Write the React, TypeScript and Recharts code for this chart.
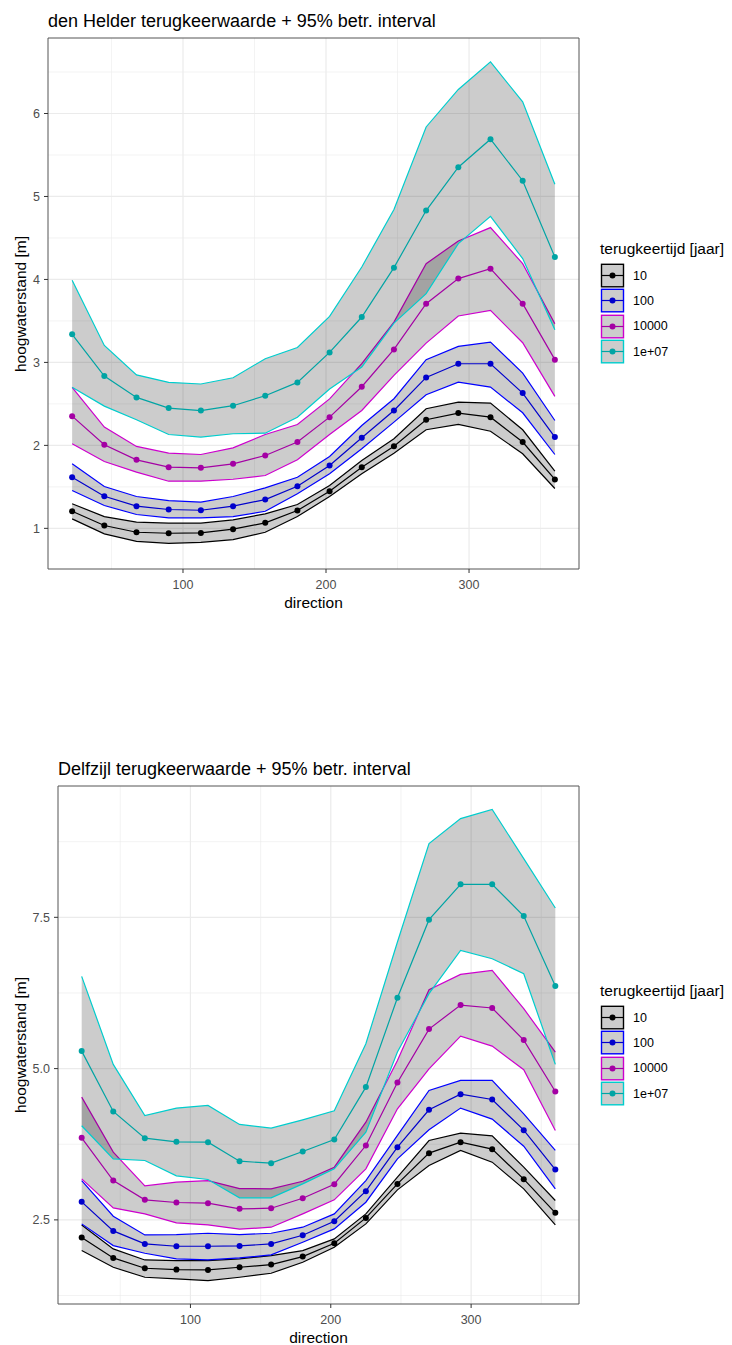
import { ComposedChart, Area, Line, XAxis, YAxis, CartesianGrid, ReferenceArea } from 'recharts';

const directions = [22.5, 45, 67.5, 90, 112.5, 135, 157.5, 180, 202.5, 225, 247.5, 270, 292.5, 315, 337.5, 360];
const periods = ['10', '100', '10000', '1e+07'];
const xTicks = [100, 200, 300];
const xMinor = [50, 150, 250, 350];

// den Helder
const helderMid10 = [1.206, 1.034, 0.953, 0.941, 0.945, 0.99, 1.066, 1.215, 1.448, 1.737, 1.99, 2.309, 2.389, 2.34, 2.04, 1.589];
const helderLo10 = [1.114, 0.933, 0.844, 0.82, 0.832, 0.865, 0.953, 1.142, 1.384, 1.657, 1.906, 2.188, 2.252, 2.171, 1.899, 1.48];
const helderHi10 = [1.296, 1.142, 1.074, 1.062, 1.062, 1.102, 1.175, 1.287, 1.516, 1.818, 2.08, 2.441, 2.521, 2.509, 2.188, 1.689];
const helderMid100 = [1.616, 1.387, 1.267, 1.227, 1.218, 1.267, 1.347, 1.508, 1.758, 2.092, 2.42, 2.819, 2.984, 2.984, 2.63, 2.1];
const helderLo100 = [1.456, 1.275, 1.167, 1.127, 1.127, 1.142, 1.206, 1.416, 1.657, 1.959, 2.28, 2.61, 2.763, 2.702, 2.393, 1.89];
const helderHi100 = [1.778, 1.504, 1.384, 1.335, 1.315, 1.384, 1.488, 1.616, 1.866, 2.24, 2.562, 3.033, 3.193, 3.245, 2.871, 2.3];
const helderMid1e4 = [2.352, 2.007, 1.826, 1.737, 1.73, 1.778, 1.878, 2.04, 2.34, 2.707, 3.157, 3.708, 4.01, 4.13, 3.708, 3.033];
const helderLo1e4 = [2.02, 1.806, 1.677, 1.568, 1.568, 1.592, 1.637, 1.826, 2.131, 2.42, 2.843, 3.233, 3.559, 3.627, 3.237, 2.59];
const helderHi1e4 = [2.7, 2.22, 1.987, 1.906, 1.89, 1.97, 2.131, 2.252, 2.56, 2.984, 3.486, 4.19, 4.463, 4.625, 4.19, 3.467];
const helderMid1e7 = [3.338, 2.835, 2.578, 2.449, 2.42, 2.478, 2.598, 2.759, 3.12, 3.547, 4.142, 4.83, 5.352, 5.69, 5.19, 4.27];
const helderLo1e7 = [2.7, 2.473, 2.309, 2.131, 2.1, 2.14, 2.147, 2.34, 2.68, 2.944, 3.474, 3.829, 4.432, 4.761, 4.251, 3.394];
const helderHi1e7 = [3.99, 3.205, 2.85, 2.76, 2.74, 2.815, 3.045, 3.18, 3.555, 4.15, 4.842, 5.838, 6.29, 6.622, 6.14, 5.147];

// Delfzijl
const delfMid10 = [2.208, 1.872, 1.701, 1.679, 1.673, 1.717, 1.761, 1.894, 2.114, 2.533, 3.095, 3.603, 3.784, 3.669, 3.173, 2.616];
const delfLo10 = [1.993, 1.717, 1.552, 1.524, 1.497, 1.552, 1.618, 1.8, 2.048, 2.434, 2.996, 3.399, 3.647, 3.454, 3.013, 2.417];
const delfHi10 = [2.417, 2.02, 1.838, 1.827, 1.827, 1.855, 1.91, 1.993, 2.186, 2.599, 3.206, 3.812, 3.933, 3.889, 3.371, 2.82];
const delfMid100 = [2.798, 2.318, 2.103, 2.064, 2.064, 2.07, 2.103, 2.246, 2.478, 2.974, 3.702, 4.319, 4.578, 4.49, 3.983, 3.332];
const delfLo100 = [2.434, 2.075, 1.949, 1.855, 1.838, 1.872, 1.921, 2.131, 2.351, 2.792, 3.509, 3.988, 4.347, 4.165, 3.718, 3.013];
const delfHi100 = [3.15, 2.561, 2.252, 2.257, 2.279, 2.257, 2.279, 2.379, 2.599, 3.15, 3.895, 4.639, 4.804, 4.804, 4.253, 3.647];
const delfMid1e4 = [3.856, 3.15, 2.831, 2.787, 2.776, 2.682, 2.693, 2.858, 3.09, 3.729, 4.771, 5.653, 6.05, 6.001, 5.471, 4.622];
const delfLo1e4 = [3.178, 2.698, 2.599, 2.45, 2.417, 2.346, 2.379, 2.599, 2.831, 3.343, 4.336, 4.997, 5.537, 5.372, 4.981, 3.977];
const delfHi1e4 = [4.529, 3.619, 3.062, 3.123, 3.15, 3.018, 3.013, 3.139, 3.371, 4.115, 5.135, 6.304, 6.557, 6.623, 5.99, 5.273];
const delfMid1e7 = [5.289, 4.292, 3.851, 3.79, 3.784, 3.47, 3.437, 3.63, 3.829, 4.694, 6.171, 7.461, 8.046, 8.046, 7.522, 6.364];
const delfLo1e7 = [4.055, 3.509, 3.481, 3.228, 3.167, 2.864, 2.864, 3.095, 3.343, 3.95, 5.273, 6.238, 6.954, 6.816, 6.568, 5.069];
const delfHi1e7 = [6.524, 5.069, 4.225, 4.347, 4.391, 4.077, 4.016, 4.154, 4.303, 5.411, 7.092, 8.718, 9.132, 9.281, 8.47, 7.654];

const helderYTicks = [1, 2, 3, 4, 5, 6];
const helderYMinor = [1.5, 2.5, 3.5, 4.5, 5.5, 6.5];
const delfYTicks = [2.5, 5.0, 7.5];
const delfYMinor = [1.25, 3.75, 6.25, 8.75];

const ribbonColors = ['#000000', '#0000ff', '#cd00cd', '#00cdcd'];
const lineColors = ['#000000', '#0000cc', '#a400a4', '#00a4a4'];
const keys = ['p10', 'p100', 'p1e4', 'p1e7'];

const FONT = '"Liberation Sans", Arial, Helvetica, sans-serif';
const X_DOMAIN: [number, number] = [5.625, 376.875];

function buildRows(mids: number[][], los: number[][], his: number[][]) {
  return directions.map((dir, i) => {
    const row: any = { dir };
    keys.forEach((k, j) => {
      row[k] = mids[j][i];
      row[k + 'r'] = [los[j][i], his[j][i]];
    });
    return row;
  });
}

const helderRows = buildRows(
  [helderMid10, helderMid100, helderMid1e4, helderMid1e7],
  [helderLo10, helderLo100, helderLo1e4, helderLo1e7],
  [helderHi10, helderHi100, helderHi1e4, helderHi1e7]
);
const delfRows = buildRows(
  [delfMid10, delfMid100, delfMid1e4, delfMid1e7],
  [delfLo10, delfLo100, delfLo1e4, delfLo1e7],
  [delfHi10, delfHi100, delfHi1e4, delfHi1e7]
);

function KeyLegend({ top }: { top: number }) {
  return (
    <div style={{ position: 'absolute', left: 600, top, fontFamily: FONT, color: '#000' }}>
      <div style={{ fontSize: 15.5, lineHeight: '20px', whiteSpace: 'nowrap' }}>terugkeertijd [jaar]</div>
      <div style={{ marginTop: 4 }}>
        {periods.map((p, i) => (
          <div key={p} style={{ display: 'flex', alignItems: 'center', height: 25.3 }}>
            <svg width={25} height={25} style={{ display: 'block' }}>
              <rect x={1.5} y={1.3} width={22} height={22.5} fill="#cccccc" stroke={ribbonColors[i]} strokeWidth={1.4} />
              <line x1={1.5} x2={23.5} y1={12.5} y2={12.5} stroke={lineColors[i]} strokeWidth={1.2} />
              <circle cx={12.5} cy={12.5} r={3} fill={lineColors[i]} />
            </svg>
            <span style={{ marginLeft: 8, fontSize: 12.5 }}>{p}</span>
          </div>
        ))}
      </div>
    </div>
  );
}

type PanelProps = {
  top: number;
  title: string;
  rows: any[];
  yAxisWidth: number;
  plotHeight: number;
  yDomain: [number, number];
  yTicks: number[];
  yMinor: number[];
  legendTop: number;
};

function Panel({ top, title, rows, yAxisWidth, plotHeight, yDomain, yTicks, yMinor, legendTop }: PanelProps) {
  const width = 600;
  const marginTop = 38;
  const height = marginTop + plotHeight + 41;
  const plotLeft = yAxisWidth;
  const plotRight = width - 21;
  const plotCenterX = (plotLeft + plotRight) / 2;
  return (
    <>
      <div style={{ position: 'absolute', left: plotLeft, top: top + 10.5, fontFamily: FONT, fontSize: 18, lineHeight: '20px', whiteSpace: 'nowrap', color: '#000' }}>
        {title}
      </div>
      <div style={{ position: 'absolute', left: 0, top }}>
        <ComposedChart width={width} height={height} data={rows} margin={{ top: marginTop, right: 21, bottom: 1, left: 0 }}>
          <CartesianGrid verticalValues={xMinor} horizontalValues={yMinor} stroke="#ebebeb" strokeWidth={0.6} />
          <CartesianGrid verticalValues={xTicks} horizontalValues={yTicks} stroke="#ebebeb" strokeWidth={1.2} />
          <XAxis
            dataKey="dir"
            type="number"
            domain={X_DOMAIN}
            ticks={xTicks}
            allowDataOverflow
            height={40}
            axisLine={false}
            tickSize={4}
            tickMargin={7}
            tickLine={{ stroke: '#333333' }}
            tick={{ fill: '#4d4d4d', fontSize: 12.5, fontFamily: FONT }}
          />
          <YAxis
            type="number"
            domain={yDomain}
            ticks={yTicks}
            allowDataOverflow
            width={yAxisWidth}
            axisLine={false}
            tickSize={4}
            tickMargin={4}
            tickLine={{ stroke: '#333333' }}
            tick={{ fill: '#4d4d4d', fontSize: 12.5, fontFamily: FONT }}
            tickFormatter={(v: number) => (yTicks.some((t) => t % 1 !== 0) ? v.toFixed(1) : String(v))}
          />
          {keys.map((k, i) => (
            <Area
              key={k + 'r'}
              dataKey={k + 'r'}
              type="linear"
              fill="#000000"
              fillOpacity={0.2}
              stroke={ribbonColors[i]}
              strokeWidth={1.2}
              dot={false}
              activeDot={false}
              isAnimationActive={false}
            />
          ))}
          {keys.map((k, i) => (
            <Line
              key={k}
              dataKey={k}
              type="linear"
              stroke={lineColors[i]}
              strokeWidth={1.2}
              dot={{ r: 3, fill: lineColors[i], stroke: 'none' }}
              activeDot={false}
              isAnimationActive={false}
            />
          ))}
          <ReferenceArea x1={X_DOMAIN[0]} x2={X_DOMAIN[1]} y1={yDomain[0]} y2={yDomain[1]} fill="none" stroke="#555555" strokeWidth={1} fillOpacity={0} />
        </ComposedChart>
      </div>
      <div
        style={{
          position: 'absolute',
          left: 20.5,
          top: top + marginTop + plotHeight / 2,
          transform: 'translate(-50%, -50%) rotate(-90deg)',
          fontFamily: FONT,
          fontSize: 15.5,
          whiteSpace: 'nowrap',
          color: '#000',
        }}
      >
        hoogwaterstand [m]
      </div>
      <div
        style={{
          position: 'absolute',
          left: plotCenterX,
          top: top + marginTop + plotHeight + 34,
          transform: 'translate(-50%, -50%)',
          fontFamily: FONT,
          fontSize: 15.5,
          whiteSpace: 'nowrap',
          color: '#000',
        }}
      >
        direction
      </div>
      <KeyLegend top={legendTop} />
    </>
  );
}

export default function App() {
  return (
    <div style={{ position: 'absolute', left: 0, top: 0, width: 732, height: 1345, background: '#ffffff', overflow: 'hidden' }}>
      <Panel
        top={0}
        title="den Helder terugkeerwaarde + 95% betr. interval"
        rows={helderRows}
        yAxisWidth={48}
        plotHeight={531}
        yDomain={[0.51, 6.91]}
        yTicks={helderYTicks}
        yMinor={helderYMinor}
        legendTop={239}
      />
      <Panel
        top={748}
        title="Delfzijl terugkeerwaarde + 95% betr. interval"
        rows={delfRows}
        yAxisWidth={58}
        plotHeight={518}
        yDomain={[1.11, 9.67]}
        yTicks={delfYTicks}
        yMinor={delfYMinor}
        legendTop={981}
      />
    </div>
  );
}
